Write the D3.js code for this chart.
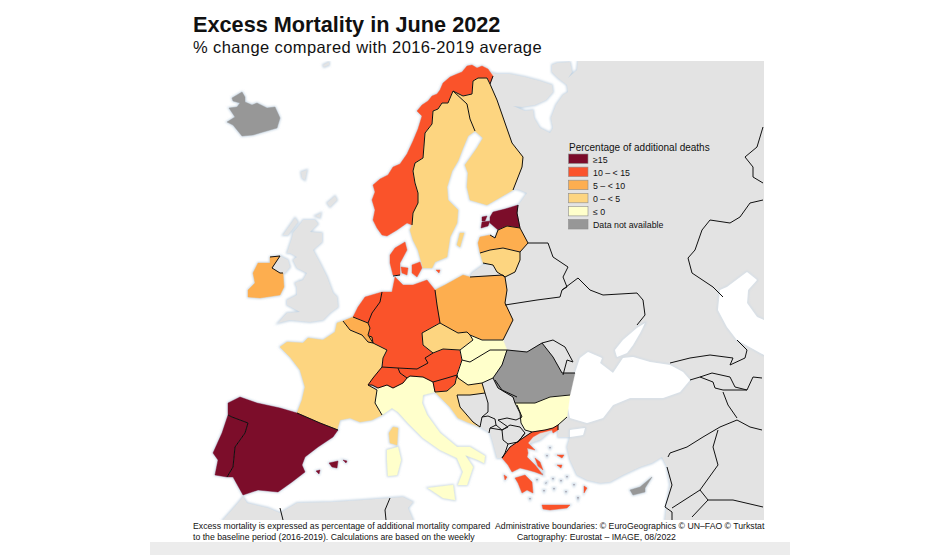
<!DOCTYPE html>
<html>
<head>
<meta charset="utf-8">
<script src="https://cdn.jsdelivr.net/npm/d3@7"></script>
<style>
  html, body { margin: 0; padding: 0; background: #fff; }
  svg { display: block; }
  text { font-family: "Liberation Sans", Arial, sans-serif; fill: #111; }
</style>
</head>
<body>
<svg id="chart" width="940" height="558"></svg>
<script>
// Legend classes
const classLabels = ["≥15", "10 – < 15", "5 – < 10", "0 – < 5", "≤ 0", "Data not available"];
const classColors = ["#7b0a2a", "#fa532c", "#fdae50", "#fdd580", "#ffffcb", "#979797"];

// Class of each country (index into classLabels)
const countryClass = {
  Norway: 1, Sweden: 3, Finland: 3, Estonia: 0, Latvia: 2, Lithuania: 3, Poland: 2,
  Germany: 1, Denmark: 1, Netherlands: 1, Belgium: 2, Luxembourg: 2, France: 3,
  Ireland: 2, Spain: 0, Portugal: 0, Italy: 4, Switzerland: 1, Austria: 1, Czechia: 3,
  Slovakia: 4, Hungary: 4, Slovenia: 1, Croatia: 3, Romania: 5, Bulgaria: 4, Greece: 1,
  Iceland: 5, Cyprus: 5
};

// Outlines, in map units
const norway = [[[382,235],[387,236],[397,230],[407,223],[412,225],[413,213],[418,203],[418,193],[415,183],[413,171],[415,163],[423,158],[425,133],[432,124],[433,111],[438,109],[442,103],[448,103],[453,91],[463,96],[472,94],[473,81],[478,78],[487,78],[490,84],[493,76],[488,69],[482,66],[477,68],[472,65],[467,66],[462,72],[457,74],[450,77],[443,83],[440,90],[437,94],[432,96],[428,101],[422,105],[417,111],[422,116],[418,129],[413,141],[407,154],[400,164],[393,167],[388,175],[380,179],[373,185],[375,192],[372,200],[375,210],[373,220],[377,228]]];
const sweden = [[[412,225],[410,230],[413,240],[418,250],[423,268],[432,268],[435,262],[447,257],[450,237],[457,223],[458,210],[448,200],[447,187],[452,171],[458,161],[463,148],[468,136],[475,131],[470,119],[467,104],[453,91],[448,103],[442,103],[438,109],[433,111],[432,124],[425,133],[423,158],[415,163],[413,171],[415,183],[418,193],[418,203],[413,213]],
  [[460,233],[464,233],[460,247],[457,245]]];
const finland = [[[478,78],[487,78],[490,84],[497,100],[505,123],[512,143],[523,157],[522,167],[513,190],[487,205],[470,200],[467,187],[468,173],[465,165],[470,158],[477,148],[483,138],[475,131],[470,119],[467,104],[453,91],[463,96],[472,94],[473,81]]];
const estonia = [[[490,217],[493,212],[505,209],[518,205],[517,213],[520,228],[507,226],[498,230],[490,223]],
  [[482,222],[490,221],[488,226],[481,228]], [[482,217],[487,216],[485,221],[482,221]]];
const latvia = [[[478,243],[480,237],[490,235],[495,238],[498,230],[507,226],[520,228],[528,243],[520,252],[503,248],[490,250],[480,253]]];
const lithuania = [[[480,253],[490,250],[503,248],[520,252],[520,260],[515,272],[505,277],[497,272],[493,265],[483,263]]];
const poland = [[[435,290],[445,285],[463,275],[470,277],[503,275],[505,277],[507,290],[505,303],[513,320],[503,340],[482,340],[470,335],[467,332],[458,333],[440,323],[437,305]]];
const germany = [[[395,277],[403,285],[413,285],[427,280],[435,290],[437,305],[440,323],[422,333],[423,345],[433,353],[425,358],[428,363],[417,369],[398,368],[382,367],[383,358],[387,350],[373,343],[368,335],[370,328],[368,323],[372,313],[380,302],[382,292],[392,292]]];
const denmark = [[[390,255],[395,248],[405,242],[407,250],[400,263],[400,275],[393,275],[390,263]],
  [[401,267],[408,268],[407,275],[402,273]], [[412,265],[420,262],[422,268],[417,277],[412,273]], [[436,270],[440,270],[439,273]]];
const netherlands = [[[353,317],[358,307],[365,297],[382,292],[380,302],[372,313],[368,323]]];
const belgium = [[[343,321],[353,317],[368,323],[370,328],[368,335],[373,343],[368,342],[362,335],[350,330]]];
const luxembourg = [[[369,336],[372,337],[373,343],[369,342]]];
const france = [[[343,321],[350,330],[362,335],[368,342],[373,343],[387,350],[383,358],[380,370],[368,385],[377,390],[375,403],[382,415],[372,420],[360,422],[350,418],[340,420],[337,430],[320,423],[297,413],[302,400],[305,387],[300,370],[290,357],[280,347],[287,342],[303,343],[308,338],[323,340],[335,332],[337,323]],
  [[393,427],[398,428],[397,445],[390,443],[389,433]]];
const ireland = [[[248,290],[255,283],[253,273],[258,263],[270,263],[270,257],[280,256],[272,268],[280,273],[283,273],[284,287],[280,295],[260,298],[248,297]]];
const spain = [[[228,403],[240,397],[257,403],[280,408],[297,413],[320,423],[338,430],[333,437],[318,447],[305,457],[302,465],[305,472],[292,482],[278,492],[258,490],[243,495],[233,477],[227,477],[233,467],[235,447],[245,433],[248,423],[232,417],[228,415]],
  [[329,463],[338,461],[337,468],[332,467]], [[343,460],[347,461],[346,463]], [[316,471],[320,470],[319,474]]];
const portugal = [[[228,415],[232,417],[248,423],[245,433],[235,447],[233,467],[227,477],[215,475],[218,460],[213,453],[222,433]]];
const italy = [[[378,388],[387,385],[393,388],[403,383],[407,378],[410,376],[423,377],[433,382],[435,392],[423,395],[422,403],[427,415],[440,433],[457,447],[470,447],[485,456],[484,463],[478,460],[465,455],[473,467],[467,485],[458,485],[463,472],[457,458],[440,450],[423,438],[408,423],[398,412],[392,408],[382,415],[375,403],[377,390]],
  [[387,450],[398,447],[401,460],[397,475],[388,476],[387,460]], [[428,488],[453,485],[455,500],[443,498]]];
const switzerland = [[[368,385],[373,378],[382,367],[398,368],[400,373],[407,378],[403,383],[393,388],[387,385],[378,388],[372,385]]];
const austria = [[[398,368],[417,369],[428,363],[425,358],[433,353],[443,349],[460,350],[462,360],[457,375],[447,378],[433,382],[423,377],[410,376],[407,378],[400,373]]];
const czechia = [[[422,333],[440,323],[458,333],[467,332],[473,340],[460,350],[443,349],[433,353],[423,345]]];
const slovakia = [[[473,340],[470,335],[482,340],[503,340],[507,350],[490,350],[470,362],[462,360],[460,350]]];
const hungary = [[[462,360],[470,362],[490,350],[507,350],[502,365],[493,378],[482,383],[468,385],[458,378],[457,375]]];
const slovenia = [[[433,382],[447,378],[457,375],[455,384],[447,391],[435,392]]];
const croatia = [[[457,375],[458,378],[468,385],[482,383],[485,393],[470,395],[457,395],[460,407],[473,422],[480,427],[467,422],[458,418],[450,407],[443,400],[435,392],[447,391],[455,384]]];
const romania = [[[493,378],[502,365],[507,350],[527,352],[542,343],[553,357],[562,373],[575,373],[570,395],[550,397],[535,403],[515,403],[513,397],[498,388]]];
const bulgaria = [[[515,403],[535,403],[550,397],[570,395],[567,417],[558,425],[553,428],[545,430],[532,432],[525,430],[521,423],[520,413]]];
const greece = [[[558,425],[558,430],[553,433],[552,430],[540,433],[533,437],[528,443],[535,450],[527,448],[528,453],[527,457],[535,465],[543,475],[535,472],[528,470],[520,468],[512,472],[508,465],[502,458],[510,447],[523,438],[532,432],[545,430],[553,428]],
  [[515,478],[525,475],[532,482],[533,493],[527,490],[522,493],[518,483]], [[542,505],[557,505],[570,505],[567,508],[550,510],[543,509]],
  [[557,455],[564,455],[562,458]], [[557,465],[562,465],[561,468]], [[584,486],[587,488],[584,493]],
  [[535,458],[540,462],[543,470],[538,466]], [[504,475],[507,477],[505,480]]];
const iceland = [[[227,122],[235,117],[229,108],[237,107],[240,103],[233,101],[232,98],[242,92],[245,97],[245,102],[252,105],[257,103],[267,108],[275,107],[280,118],[277,128],[263,132],[253,135],[242,136],[233,125]]];
const cyprus = [[[630,490],[640,487],[652,477],[645,488],[645,492],[633,495]]];

// Countries with no data to show
const eastLand = [[487,72],[497,74],[510,74],[525,77],[540,81],[552,85],[553,92],[546,100],[535,105],[522,107],[513,106],[525,111],[533,110],[534,118],[540,128],[550,133],[553,128],[551,118],[556,105],[563,95],[568,92],[567,85],[558,78],[552,72],[552,65],[557,63],[570,62],[572,72],[568,78],[577,70],[578,61],[764,61],[764,520],[665,520],[667,503],[670,485],[667,467],[662,457],[652,463],[640,467],[623,475],[610,482],[600,483],[587,480],[577,475],[570,460],[567,447],[570,437],[558,437],[558,430],[558,425],[540,440],[510,450],[502,458],[497,458],[493,443],[490,433],[480,427],[467,422],[458,418],[445,400],[435,385],[420,340],[435,295],[470,277],[472,273],[483,265],[493,265],[505,235],[510,220],[517,207],[527,193],[520,190],[512,188],[490,130],[485,80]];
const britain = [[303,220],[315,220],[318,224],[310,232],[322,233],[322,242],[313,250],[320,263],[327,277],[333,293],[337,297],[338,307],[330,313],[323,320],[310,322],[290,320],[278,323],[287,313],[300,312],[287,305],[287,300],[297,295],[297,288],[295,283],[303,280],[307,273],[297,268],[293,260],[297,257],[290,253],[293,233],[301,223]];
const northernIreland = [[280,256],[288,260],[290,267],[285,273],[280,273],[272,268]];
const northAfrica = [[223,520],[238,503],[243,497],[247,503],[268,508],[280,513],[297,503],[333,502],[363,500],[390,498],[403,497],[413,502],[408,508],[413,520]];
const islets = [
  [[327,203],[335,196],[337,200],[330,207]], [[315,216],[321,213],[320,218]], [[301,172],[307,170],[305,180],[302,178]],
  [[323,65],[329,62],[329,65],[324,67]], [[283,235],[295,218],[298,222],[288,235]], [[287,253],[293,235],[296,240],[291,253]],
  [[296,283],[299,281],[298,285]]
];
const aegeanIslets = [
  [[546,455],[548,455],[547,457]], [[549,447],[551,447],[550,449]], [[536,479],[538,479],[537,481]], [[545,483],[547,482],[546,484]],
  [[552,478],[554,478],[553,480]], [[560,480],[562,480],[561,482]], [[543,490],[545,490],[544,492]], [[553,488],[555,488],[554,490]],
  [[566,476],[568,476],[567,478]], [[573,484],[575,484],[574,486]], [[529,498],[531,498],[530,500]], [[577,497],[579,497],[578,500]],
  [[541,474],[543,473],[542,475]], [[565,491],[567,491],[566,493]]
];

// Seas painted over the land
const blackSea = [[575,373],[580,358],[588,352],[602,358],[600,363],[613,373],[623,358],[633,357],[650,362],[670,365],[683,372],[690,380],[680,392],[663,398],[643,398],[630,398],[613,405],[603,418],[587,423],[570,418],[567,403],[570,387]];
const azovSea = [[615,350],[623,340],[637,328],[645,323],[640,333],[633,345],[627,353],[617,357]];
const marmara = [[570,430],[585,428],[583,435],[570,437]];
const caspian = [[757,280],[747,272],[727,287],[720,290],[718,310],[727,327],[737,340],[764,355],[764,320],[757,317],[747,303],[748,290]];

// Land borders
const borders = [
  [[412,225],[413,213],[418,203],[418,193],[415,183],[413,171],[415,163],[423,158],[425,133],[432,124],[433,111],[438,109],[442,103],[448,103],[453,91],[463,96],[472,94],[473,81],[478,78],[487,78],[490,84],[493,76]],
  [[453,91],[467,104],[470,119],[475,131]],
  [[490,84],[497,100],[505,123],[512,143],[523,157],[522,167],[513,190]],
  [[518,205],[517,213],[520,228],[528,243],[520,252],[520,260],[515,272],[505,277],[497,272],[493,265],[483,263]],
  [[490,235],[495,238],[498,230],[507,226],[520,228]], [[480,253],[490,250],[503,248],[520,252]],
  [[470,277],[503,275],[505,277],[507,290],[505,303],[513,320],[503,340],[482,340],[470,335],[467,332],[458,333],[440,323],[437,305],[435,290]],
  [[393,276],[400,275]],
  [[440,323],[422,333],[423,345],[433,353],[443,349],[460,350],[473,340],[470,335]],
  [[433,353],[425,358],[428,363],[417,369],[398,368],[382,367],[383,358],[387,350],[373,343],[368,335],[370,328],[368,323],[372,313],[380,302],[382,292]],
  [[398,368],[400,373],[407,378],[403,383],[393,388],[387,385],[378,388],[372,385],[368,385],[373,378],[382,367]],
  [[407,378],[410,376],[423,377],[433,382],[447,378],[457,375],[462,360],[460,350]],
  [[433,382],[435,392],[447,391],[455,384],[457,375],[458,378],[468,385],[482,383],[485,393],[470,395],[457,395],[460,407],[473,422],[480,427]],
  [[462,360],[470,362],[490,350],[507,350]],
  [[353,317],[368,323]], [[343,321],[350,330],[362,335],[368,342],[373,343]],
  [[369,336],[372,337],[373,343]],
  [[368,385],[377,390],[375,403],[382,415]], [[297,413],[320,423],[338,430]],
  [[228,415],[232,417],[248,423],[245,433],[235,447],[233,467],[227,477]],
  [[270,257],[280,256],[272,268],[280,273],[283,273]],
  [[482,383],[493,378],[502,365],[507,350],[527,352],[542,343],[553,357],[562,373],[575,373]],
  [[493,378],[498,388],[513,397],[515,403],[520,413],[521,423],[525,430],[532,432],[545,430],[553,428],[558,425],[567,417]],
  [[515,403],[535,403],[550,397],[570,395]],
  [[502,458],[510,447],[523,438],[532,432]], [[558,425],[558,430]], [[525,433],[518,442]],
  [[485,393],[488,403],[488,412],[482,417],[480,427]],
  [[482,417],[488,416],[495,419],[496,425],[490,428],[489,433]],
  [[495,380],[502,390],[517,397]], [[517,405],[522,417],[516,420],[507,418],[498,420],[508,427],[502,430],[496,425]],
  [[502,430],[510,425],[520,427],[525,433],[518,442],[508,444],[503,440],[502,430]], [[508,444],[505,453],[502,458]], [[490,428],[502,430]],
  [[528,243],[548,243],[553,257],[568,267],[563,277],[567,287],[562,290]],
  [[505,305],[537,300],[560,297],[562,290],[578,278],[590,290],[603,295],[637,293],[643,300],[645,315],[637,325]],
  [[542,343],[553,340],[565,347],[573,362],[567,360],[563,375]],
  [[670,363],[690,358],[710,355],[733,358],[730,365],[745,358],[747,350],[737,340]],
  [[690,380],[700,377],[713,382],[715,388],[723,390],[747,390],[753,377],[762,378]],
  [[712,373],[730,377],[735,387],[747,390]], [[712,373],[700,377]],
  [[723,392],[728,405],[737,418]],
  [[668,457],[670,453],[687,447],[703,437],[720,427],[737,420],[750,427],[762,430]],
  [[718,430],[713,447],[718,465],[700,490],[708,500],[692,517]],
  [[708,500],[733,500],[763,507]], [[700,490],[672,508]], [[667,467],[672,485],[665,507]], [[665,507],[672,512],[672,520]],
  [[280,508],[283,520]], [[390,498],[385,510],[386,520]],
  [[763,127],[757,147],[745,157],[753,167],[753,177],[763,183]],
  [[763,200],[750,203],[740,217],[730,223],[710,220],[702,230],[695,250],[688,258],[692,273],[713,287],[723,297]]
];

const subtitleText = "% change compared with 2016-2019 average";
const footLeft = ["Excess mortality is expressed as percentage of additional mortality compared", "to the baseline period (2016-2019). Calculations are based on the weekly"];
const footRight = ["Administrative boundaries: © EuroGeographics © UN–FAO © Turkstat", "Cartography: Eurostat – IMAGE, 08/2022"];

const landGrey = "#e3e3e3";
const coastBlue = "#c6d5e3";

const svg = d3.select("#chart");

// soft coast glow, and the map frame
const defs = svg.append("defs");
defs.append("filter").attr("id", "soft").append("feGaussianBlur").attr("stdDeviation", 0.9);
defs.append("filter").attr("id", "jpeg").append("feGaussianBlur").attr("stdDeviation", 0.3);
defs.append("clipPath").attr("id", "frame").append("rect")
  .attr("x", 190).attr("y", 61).attr("width", 574).attr("height", 459);

const path = d3.geoPath(d3.geoIdentity());
const ring = pts => [...pts, pts[0]];
const poly = rings => ({ type: "MultiPolygon", coordinates: rings.map(r => [ring(r)]) });

const euShapes = {
  Norway: norway, Sweden: sweden, Finland: finland, Estonia: estonia, Latvia: latvia,
  Lithuania: lithuania, Poland: poland, Germany: germany, Denmark: denmark,
  Netherlands: netherlands, Belgium: belgium, Luxembourg: luxembourg, France: france,
  Ireland: ireland, Spain: spain, Portugal: portugal, Italy: italy, Switzerland: switzerland,
  Austria: austria, Czechia: czechia, Slovakia: slovakia, Hungary: hungary, Slovenia: slovenia,
  Croatia: croatia, Romania: romania, Bulgaria: bulgaria, Greece: greece, Iceland: iceland, Cyprus: cyprus
};
const countries = Object.keys(euShapes).map(name => ({ name, geo: poly(euShapes[name]), cls: countryClass[name] }));
const greyLand = [eastLand, britain, northernIreland, northAfrica, ...islets].map(r => poly([r]));
const seas = [blackSea, azovSea, marmara, caspian].map(r => poly([r]));
const aegean = aegeanIslets.map(r => poly([r]));

const map = svg.append("g").attr("clip-path", "url(#frame)").append("g").attr("filter", "url(#jpeg)");

// glow under every coast
map.append("g").attr("filter", "url(#soft)").selectAll("path")
  .data([...greyLand, ...countries.map(d => d.geo), ...aegean])
  .join("path")
  .attr("d", path)
  .attr("fill", coastBlue)
  .attr("stroke", coastBlue)
  .attr("stroke-width", 2);

map.append("g").selectAll("path")
  .data(greyLand)
  .join("path")
  .attr("d", path)
  .attr("fill", landGrey);

map.append("g").attr("filter", "url(#soft)").selectAll("path")
  .data(seas)
  .join("path")
  .attr("d", path)
  .attr("fill", "#fff")
  .attr("stroke", coastBlue)
  .attr("stroke-width", 1.5);

map.append("g").selectAll("path")
  .data(seas)
  .join("path")
  .attr("d", path)
  .attr("fill", "#fff");

map.append("g").selectAll("path")
  .data(countries)
  .join("path")
  .attr("d", d => path(d.geo))
  .attr("fill", d => classColors[d.cls])
  .attr("stroke", d => classColors[d.cls])
  .attr("stroke-width", 0.4);

map.append("g").selectAll("path")
  .data(aegean)
  .join("path")
  .attr("d", path)
  .attr("fill", "#a5a3ad");

map.append("g").selectAll("path")
  .data(borders)
  .join("path")
  .attr("d", d => path({ type: "LineString", coordinates: d }))
  .attr("fill", "none")
  .attr("stroke", "#111")
  .attr("stroke-width", 1)
  .attr("stroke-linejoin", "round");

// bottom band
svg.append("rect").attr("x", 150).attr("y", 542).attr("width", 640).attr("height", 13).attr("fill", "#ececec");

// title
svg.append("text").attr("x", 193).attr("y", 32).attr("font-size", 21.7).attr("font-weight", "bold")
  .text("Excess Mortality in June 2022");
svg.append("text").attr("x", 193).attr("y", 53).attr("font-size", 16.5).attr("letter-spacing", 0.4)
  .text(subtitleText);

// legend
const legendY = d3.scalePoint().domain(classLabels).range([154, 219.5]);
const legend = svg.append("g");
legend.append("text").attr("x", 569).attr("y", 150.5).attr("font-size", 10).text("Percentage of additional deaths");
legend.selectAll("rect")
  .data(classLabels)
  .join("rect")
  .attr("x", 568.5)
  .attr("y", d => legendY(d))
  .attr("width", 19.5)
  .attr("height", 9.5)
  .attr("fill", (d, i) => classColors[i])
  .attr("stroke", "#8d8d8d")
  .attr("stroke-width", 0.6);
legend.selectAll(".label")
  .data(classLabels)
  .join("text")
  .attr("class", "label")
  .attr("x", 593)
  .attr("y", d => legendY(d) + 8.5)
  .attr("font-size", 8.8)
  .text(d => d);

// footer
svg.append("g").selectAll("text")
  .data(footLeft)
  .join("text")
  .attr("x", 193)
  .attr("y", (d, i) => 529 + i * 10.6)
  .attr("font-size", 8.7)
  .text(d => d);
svg.append("g").selectAll("text")
  .data(footRight)
  .join("text")
  .attr("x", (d, i) => i === 0 ? 495 : 517)
  .attr("y", (d, i) => 529 + i * 10.6)
  .attr("font-size", 8.7)
  .text(d => d);
</script>
</body>
</html>
